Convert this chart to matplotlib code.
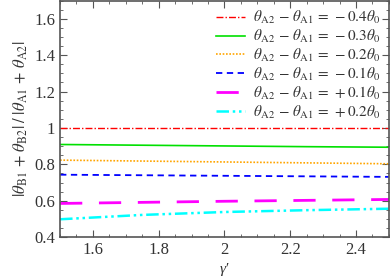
import matplotlib
matplotlib.use("Agg")
import matplotlib.pyplot as plt
from matplotlib.ticker import MultipleLocator, FormatStrFormatter

plt.rcParams["font.family"] = ["Liberation Serif", "DejaVu Serif"]
plt.rcParams["mathtext.fontset"] = "stix"

# Dati
gamma = [1.5, 1.75, 2.0, 2.25, 2.5]
r_m04 = [1.0, 1.0, 1.0, 1.0, 1.0]
r_m03 = [0.909, 0.905, 0.901, 0.897, 0.894]
r_m02 = [0.823, 0.818, 0.813, 0.808, 0.803]
r_m01 = [0.743, 0.740, 0.737, 0.734, 0.731]
r_p01 = [0.585, 0.591, 0.597, 0.602, 0.607]
r_p02 = [0.498, 0.522, 0.538, 0.548, 0.556]
labels = ["-0.4", "-0.3", "-0.2", "-0.1", "+0.1", "+0.2"]
labels = [l.replace("-", "\u2212") for l in labels]

serie = [r_m04, r_m03, r_m02, r_m01, r_p01, r_p02]
colori = ["red", "#00e000", "orange", "blue", "magenta", "cyan"]
stili = [(0, (5, 1.5, 1, 1.5)), "-", (0, (1, 1)), (0, (3.5, 2.5)),
         (0, (8, 6)), (0, (5, 1.5, 1, 1.5, 1, 1.5))]
spessori = [1.0, 1.2, 1.2, 1.3, 2.0, 1.8]

fig = plt.figure(figsize=(3.9, 2.77), dpi=100)
ax = fig.add_axes([0.154, 0.144, 0.843, 0.854])

for y, c, ls, lw, lab in zip(serie, colori, stili, spessori, labels):
    ax.plot(gamma, y, color=c, linestyle=ls, linewidth=lw,
            label=r"$\theta_{\rm A2}\,-\,\theta_{\rm A1}\,=\," + lab + r"\theta_0$")

ax.set_xlim(1.5, 2.5)
ax.set_ylim(0.4, 1.7)
ax.xaxis.set_major_locator(MultipleLocator(0.2))
ax.xaxis.set_minor_locator(MultipleLocator(0.05))
ax.yaxis.set_major_locator(MultipleLocator(0.2))
ax.yaxis.set_minor_locator(MultipleLocator(0.05))
ax.xaxis.set_major_formatter(FormatStrFormatter("%g"))
ax.yaxis.set_major_formatter(FormatStrFormatter("%g"))
ax.tick_params(which="both", direction="in", top=True, right=True,
               color="#555555", labelcolor="#333333", labelsize=12)
ax.tick_params(which="major", length=5)
ax.tick_params(which="minor", length=2.5)
for s in ax.spines.values():
    s.set_color("#555555")
    s.set_linewidth(1.2)

ax.set_xlabel("\u03b3\u2032", fontsize=11, color="#333333",
              fontstyle="italic", va="bottom")
ax.xaxis.set_label_coords(0.5, -0.165)
ax.set_ylabel(r"$|\theta_{\rm B1}\,+\,\theta_{\rm B2}|\;/\;|\theta_{\rm A1}\,+\,\theta_{\rm A2}|$",
              fontsize=12, labelpad=3, color="#333333")

ax.legend(loc="upper right", frameon=False, fontsize=11, handlelength=1.9,
          labelspacing=0.12, borderaxespad=0.15, handletextpad=0.5,
          labelcolor="#333333")

fig.savefig("out.png", dpi=100)
